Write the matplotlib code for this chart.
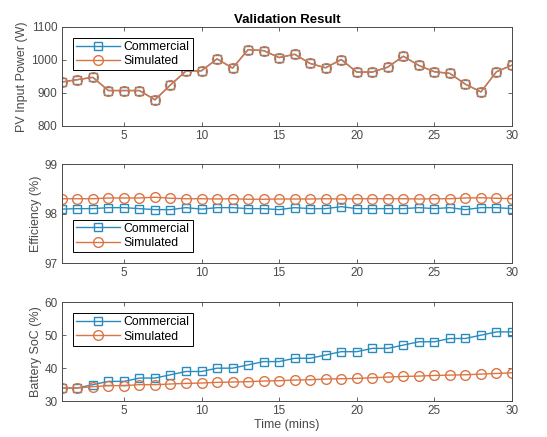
import numpy as np
import matplotlib.pyplot as plt

plt.rcParams['font.family'] = ['Liberation Sans', 'DejaVu Sans']

t = np.arange(1, 31)

pv_commercial = [933, 940, 947, 907, 907, 907, 879, 924, 966, 967,
                 1003, 975, 1031, 1028, 1007, 1017, 989, 976, 1001, 963,
                 963, 978, 1011, 983, 964, 959, 926, 903, 964, 984]
pv_simulated = [933, 940, 947, 907, 907, 907, 879, 924, 966, 967,
                1003, 975, 1031, 1028, 1007, 1017, 989, 976, 1001, 963,
                963, 978, 1011, 983, 964, 959, 926, 903, 964, 984]

eff_commercial = [98.09, 98.10, 98.10, 98.12, 98.12, 98.10, 98.08, 98.08, 98.12, 98.09,
                  98.12, 98.12, 98.10, 98.10, 98.08, 98.12, 98.10, 98.10, 98.14, 98.10,
                  98.10, 98.10, 98.10, 98.12, 98.10, 98.12, 98.08, 98.12, 98.12, 98.10]
eff_simulated = [98.30, 98.30, 98.30, 98.315, 98.315, 98.315, 98.33, 98.31, 98.30, 98.30,
                 98.295, 98.30, 98.29, 98.29, 98.295, 98.295, 98.295, 98.30, 98.295, 98.30,
                 98.30, 98.30, 98.30, 98.295, 98.30, 98.30, 98.315, 98.32, 98.31, 98.30]

soc_commercial = [34, 34, 35, 36, 36, 37, 37, 38, 39, 39,
                  40, 40, 41, 42, 42, 43, 43, 44, 45, 45,
                  46, 46, 47, 48, 48, 49, 49, 50, 51, 51]
soc_simulated = [34.0, 34.0, 34.4, 34.7, 34.7, 35.0, 35.0, 35.2, 35.4, 35.5,
                 35.7, 35.8, 35.9, 36.1, 36.2, 36.4, 36.5, 36.7, 36.8, 36.9,
                 37.1, 37.3, 37.5, 37.6, 37.8, 37.9, 38.0, 38.2, 38.4, 38.6]

blue = '#2a8cbe'
orange = '#dc7444'
grey = '#4a4a4a'

fig = plt.figure(figsize=(5.47, 4.37), dpi=100)
fig.patch.set_facecolor('white')

panels = [
    (pv_commercial, pv_simulated, (800, 1100), [800, 900, 1000, 1100], 'PV Input Power (W)', 'upper left', 0.712),
    (eff_commercial, eff_simulated, (97, 99), [97, 98, 99], 'Efficiency (%)', 'lower left', 0.398),
    (soc_commercial, soc_simulated, (30, 60), [30, 40, 50, 60], 'Battery SoC (%)', 'upper left', 0.082),
]

axes = []
for com, sim, ylim, yticks, ylabel, loc, bottom in panels:
    ax = fig.add_axes([0.113, bottom, 0.823, 0.2265])
    ax.plot(t, com, '-s', color=blue, lw=1, ms=5.5, mfc='none', mew=1, label='Commercial')
    ax.plot(t, sim, '-o', color=orange, lw=1, ms=7, mfc='none', mew=1, label='Simulated')
    ax.set_xlim(1, 30)
    ax.set_ylim(*ylim)
    ax.set_xticks([5, 10, 15, 20, 25, 30])
    ax.set_yticks(yticks)
    ax.set_ylabel(ylabel, fontsize=9, color=grey, labelpad=2)
    ax.tick_params(direction='in', top=True, right=True, labelsize=8.5,
                   colors=grey, length=3, width=0.6, pad=3)
    for s in ax.spines.values():
        s.set_color(grey)
        s.set_linewidth(0.7)
    leg = ax.legend(loc=loc, fontsize=8.8, fancybox=False, framealpha=1,
                    edgecolor='black', borderpad=0.25, labelspacing=0.2,
                    handlelength=3.6, handletextpad=0.3, borderaxespad=0.9)
    leg.get_frame().set_linewidth(0.7)
    axes.append(ax)

axes[0].set_title('Validation Result', fontsize=9.5, fontweight='bold', pad=3)
axes[2].set_xlabel('Time (mins)', fontsize=9, color=grey, labelpad=1)

fig.savefig('out.png', dpi=100)
